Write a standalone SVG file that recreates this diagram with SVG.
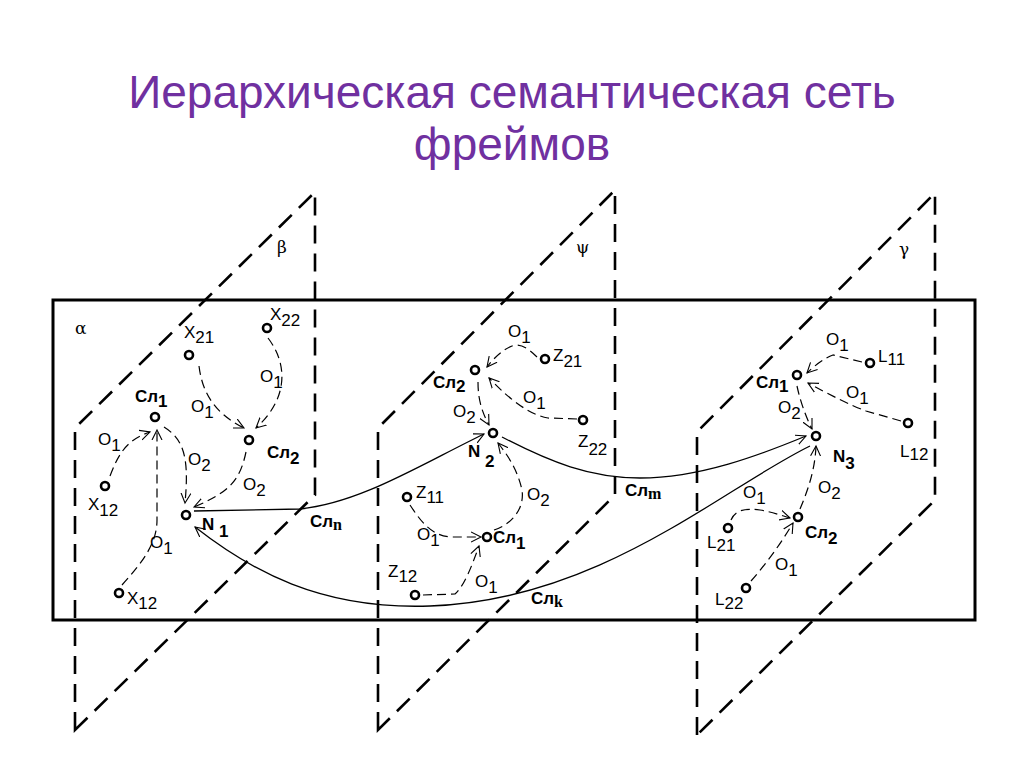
<svg xmlns="http://www.w3.org/2000/svg" width="1024" height="767" viewBox="0 0 1024 767">
<defs>
<style>
.title{font-family:"Liberation Sans","Open Sans",sans-serif;font-size:46px;fill:#7030A0;text-anchor:middle}
.plane{fill:none;stroke:#000;stroke-width:2.6;stroke-dasharray:18 10}
.frame{fill:none;stroke:#000;stroke-width:3}
.node{fill:#fff;stroke:#000;stroke-width:2.6}
.e{fill:none;stroke:#000;stroke-width:1.2;stroke-dasharray:9 5}
.link{fill:none;stroke:#000;stroke-width:1.3}
.t{font-family:"Liberation Sans","DejaVu Sans",sans-serif;font-size:17px;fill:#000}
.b{font-family:"Liberation Sans","DejaVu Sans",sans-serif;font-size:17px;font-weight:bold;fill:#000}
.k{font-family:"Liberation Serif","DejaVu Serif",serif;font-weight:bold}
.g{font-family:"DejaVu Serif","Liberation Serif",serif;font-size:17px;fill:#000}
</style>
<marker id="arr" markerWidth="12" markerHeight="12" refX="10" refY="6" orient="auto" markerUnits="userSpaceOnUse">
<path d="M0,1 L10,6 L0,11" fill="none" stroke="#000" stroke-width="1.1"/>
</marker>
</defs>
<rect width="1024" height="767" fill="#fff"/>
<g id="title">
<text class="title" x="512" y="108">Иерархическая семантическая сеть</text>
<text class="title" x="512" y="160">фреймов</text>
</g>
<g id="frame-alpha">
<rect class="frame" x="53" y="300" width="922" height="320"/>
<text class="g" x="75" y="334" font-size="14">α</text>
</g>
<g id="plane-beta">
<path class="plane" d="M75,730 L75,428 L315,192 L315,495 Z"/>
<text class="g" x="277" y="253">β</text>
</g>
<g id="plane-psi">
<path class="plane" d="M378,730 L378,428 L615,190 L615,495 Z"/>
<text class="g" x="576" y="253">ψ</text>
</g>
<g id="plane-gamma">
<path class="plane" d="M697,735 L697,432 L935,193 L935,500 Z"/>
<text class="g" x="899" y="255">γ</text>
</g>
<g id="connectors">
<path class="e" d="M199,366 C202,390 212,412 244,428" marker-end="url(#arr)"/>
<path class="e" d="M268,338 C285,360 292,395 256,428" marker-end="url(#arr)"/>
<path class="e" d="M110,476 C118,455 126,440 150,432" marker-end="url(#arr)"/>
<path class="e" d="M122,585 C140,565 157,545 157,520 L157,430" marker-end="url(#arr)"/>
<path class="e" d="M164,427 C185,440 189,460 185,503" marker-end="url(#arr)"/>
<path class="e" d="M246,452 C240,480 230,492 194,507" marker-end="url(#arr)"/>
<path class="e" d="M537,357 C528,348 520,343 512,346 C502,350 494,358 487,367" marker-end="url(#arr)"/>
<path class="e" d="M577,419 L548,418 C530,415 510,400 489,378" marker-end="url(#arr)"/>
<path class="e" d="M478,382 C478,400 482,412 489,425" marker-end="url(#arr)"/>
<path class="e" d="M410,505 C420,520 430,535 450,537 L481,537" marker-end="url(#arr)"/>
<path class="e" d="M423,595 L455,594 C465,585 472,565 479,546" marker-end="url(#arr)"/>
<path class="e" d="M494,530 C510,525 525,510 522,490 C518,472 510,458 498,443" marker-end="url(#arr)"/>
<path class="e" d="M862,362 L833,355 C825,358 815,365 807,373" marker-end="url(#arr)"/>
<path class="e" d="M901,421 L866,411 C850,405 830,395 808,383" marker-end="url(#arr)"/>
<path class="e" d="M797,386 C800,400 805,415 812,429" marker-end="url(#arr)"/>
<path class="e" d="M800,509 C808,490 815,470 816,446" marker-end="url(#arr)"/>
<path class="e" d="M731,520 C735,510 745,508 760,510 C772,512 780,515 790,518" marker-end="url(#arr)"/>
<path class="e" d="M751,581 C765,565 780,545 793,523" marker-end="url(#arr)"/>
<path class="link" d="M194,511 L300,509 C360,503 420,465 484,434" marker-end="url(#arr)"/>
<path class="link" d="M502,437 C550,462 590,478 640,478 C700,478 760,455 806,436" marker-end="url(#arr)"/>
<path class="link" d="M810,446 C720,490 600,600 430,606 C320,610 250,570 195,527" marker-end="url(#arr)"/>
<text class="t" x="191" y="412">O<tspan dy="6">1</tspan></text>
<text class="t" x="260" y="382">O<tspan dy="6">1</tspan></text>
<text class="t" x="98" y="445">O<tspan dy="6">1</tspan></text>
<text class="t" x="150" y="548">O<tspan dy="6">1</tspan></text>
<text class="t" x="188" y="465">O<tspan dy="6">2</tspan></text>
<text class="t" x="243" y="490">O<tspan dy="6">2</tspan></text>
<text class="t" x="508" y="337">O<tspan dy="6">1</tspan></text>
<text class="t" x="523" y="403">O<tspan dy="6">1</tspan></text>
<text class="t" x="453" y="417">O<tspan dy="6">2</tspan></text>
<text class="t" x="417" y="540">O<tspan dy="6">1</tspan></text>
<text class="t" x="475" y="587">O<tspan dy="6">1</tspan></text>
<text class="t" x="527" y="500">O<tspan dy="6">2</tspan></text>
<text class="t" x="826" y="345">O<tspan dy="6">1</tspan></text>
<text class="t" x="846" y="398">O<tspan dy="6">1</tspan></text>
<text class="t" x="778" y="413">O<tspan dy="6">2</tspan></text>
<text class="t" x="818" y="493">O<tspan dy="6">2</tspan></text>
<text class="t" x="743" y="498">O<tspan dy="6">1</tspan></text>
<text class="t" x="775" y="570">O<tspan dy="6">1</tspan></text>
<text class="b" x="310" y="527">Сл<tspan class="k" dy="3" font-size="16">n</tspan></text>
<text class="b" x="625" y="496">Сл<tspan class="k" dy="3" font-size="16">m</tspan></text>
<text class="b" x="531" y="604">Сл<tspan class="k" dy="3" font-size="16">k</tspan></text>
</g>
<g id="n-x21"><circle class="node" cx="189" cy="355" r="4"/><text class="t" x="184" y="338">X<tspan dy="5">21</tspan></text></g>
<g id="n-x22"><circle class="node" cx="267" cy="328" r="4"/><text class="t" x="270" y="320">X<tspan dy="6">22</tspan></text></g>
<g id="n-sl1-l"><circle class="node" cx="155" cy="417" r="4"/><text class="b" x="135" y="402">Сл<tspan dy="5">1</tspan></text></g>
<g id="n-sl2-l"><circle class="node" cx="249" cy="440" r="4"/><text class="b" x="267" y="458">Сл<tspan dy="6">2</tspan></text></g>
<g id="n-n1"><circle class="node" cx="186" cy="515" r="4"/><text class="b" x="202" y="530">N<tspan dy="7"> 1</tspan></text></g>
<g id="n-x12a"><circle class="node" cx="105" cy="486" r="4"/><text class="t" x="88" y="510">X<tspan dy="6">12</tspan></text></g>
<g id="n-x12b"><circle class="node" cx="119" cy="593" r="4"/><text class="t" x="127" y="604">X<tspan dy="5">12</tspan></text></g>
<g id="n-sl2-m"><circle class="node" cx="475" cy="370" r="4"/><text class="b" x="433" y="388">Сл<tspan dy="4">2</tspan></text></g>
<g id="n-z21"><circle class="node" cx="545" cy="359" r="4"/><text class="t" x="553" y="361">Z<tspan dy="6">21</tspan></text></g>
<g id="n-z22"><circle class="node" cx="583" cy="420" r="4"/><text class="t" x="578" y="447">Z<tspan dy="8">22</tspan></text></g>
<g id="n-n2"><circle class="node" cx="493" cy="433" r="4"/><text class="b" x="468" y="457">N<tspan dy="10"> 2</tspan></text></g>
<g id="n-z11"><circle class="node" cx="407" cy="497" r="4"/><text class="t" x="416" y="498">Z<tspan dy="5">11</tspan></text></g>
<g id="n-sl1-m"><circle class="node" cx="487" cy="537" r="4"/><text class="b" x="493" y="543">Сл<tspan dy="6">1</tspan></text></g>
<g id="n-z12"><circle class="node" cx="415" cy="595" r="4"/><text class="t" x="388" y="577">Z<tspan dy="5">12</tspan></text></g>
<g id="n-sl1-r"><circle class="node" cx="797" cy="375" r="4"/><text class="b" x="756" y="388">Сл<tspan dy="4">1</tspan></text></g>
<g id="n-l11"><circle class="node" cx="870" cy="363" r="4"/><text class="t" x="878" y="362">L<tspan dy="3">11</tspan></text></g>
<g id="n-l12"><circle class="node" cx="908" cy="423" r="4"/><text class="t" x="900" y="457">L<tspan dy="3">12</tspan></text></g>
<g id="n-n3"><circle class="node" cx="816" cy="436" r="4"/><text class="b" x="833" y="462">N<tspan dy="7">3</tspan></text></g>
<g id="n-sl2-r"><circle class="node" cx="798" cy="517" r="4"/><text class="b" x="805" y="538">Сл<tspan dy="6">2</tspan></text></g>
<g id="n-l21"><circle class="node" cx="728" cy="528" r="4"/><text class="t" x="707" y="548">L<tspan dy="3">21</tspan></text></g>
<g id="n-l22"><circle class="node" cx="746" cy="588" r="4"/><text class="t" x="715" y="605">L<tspan dy="4">22</tspan></text></g>
</svg>
